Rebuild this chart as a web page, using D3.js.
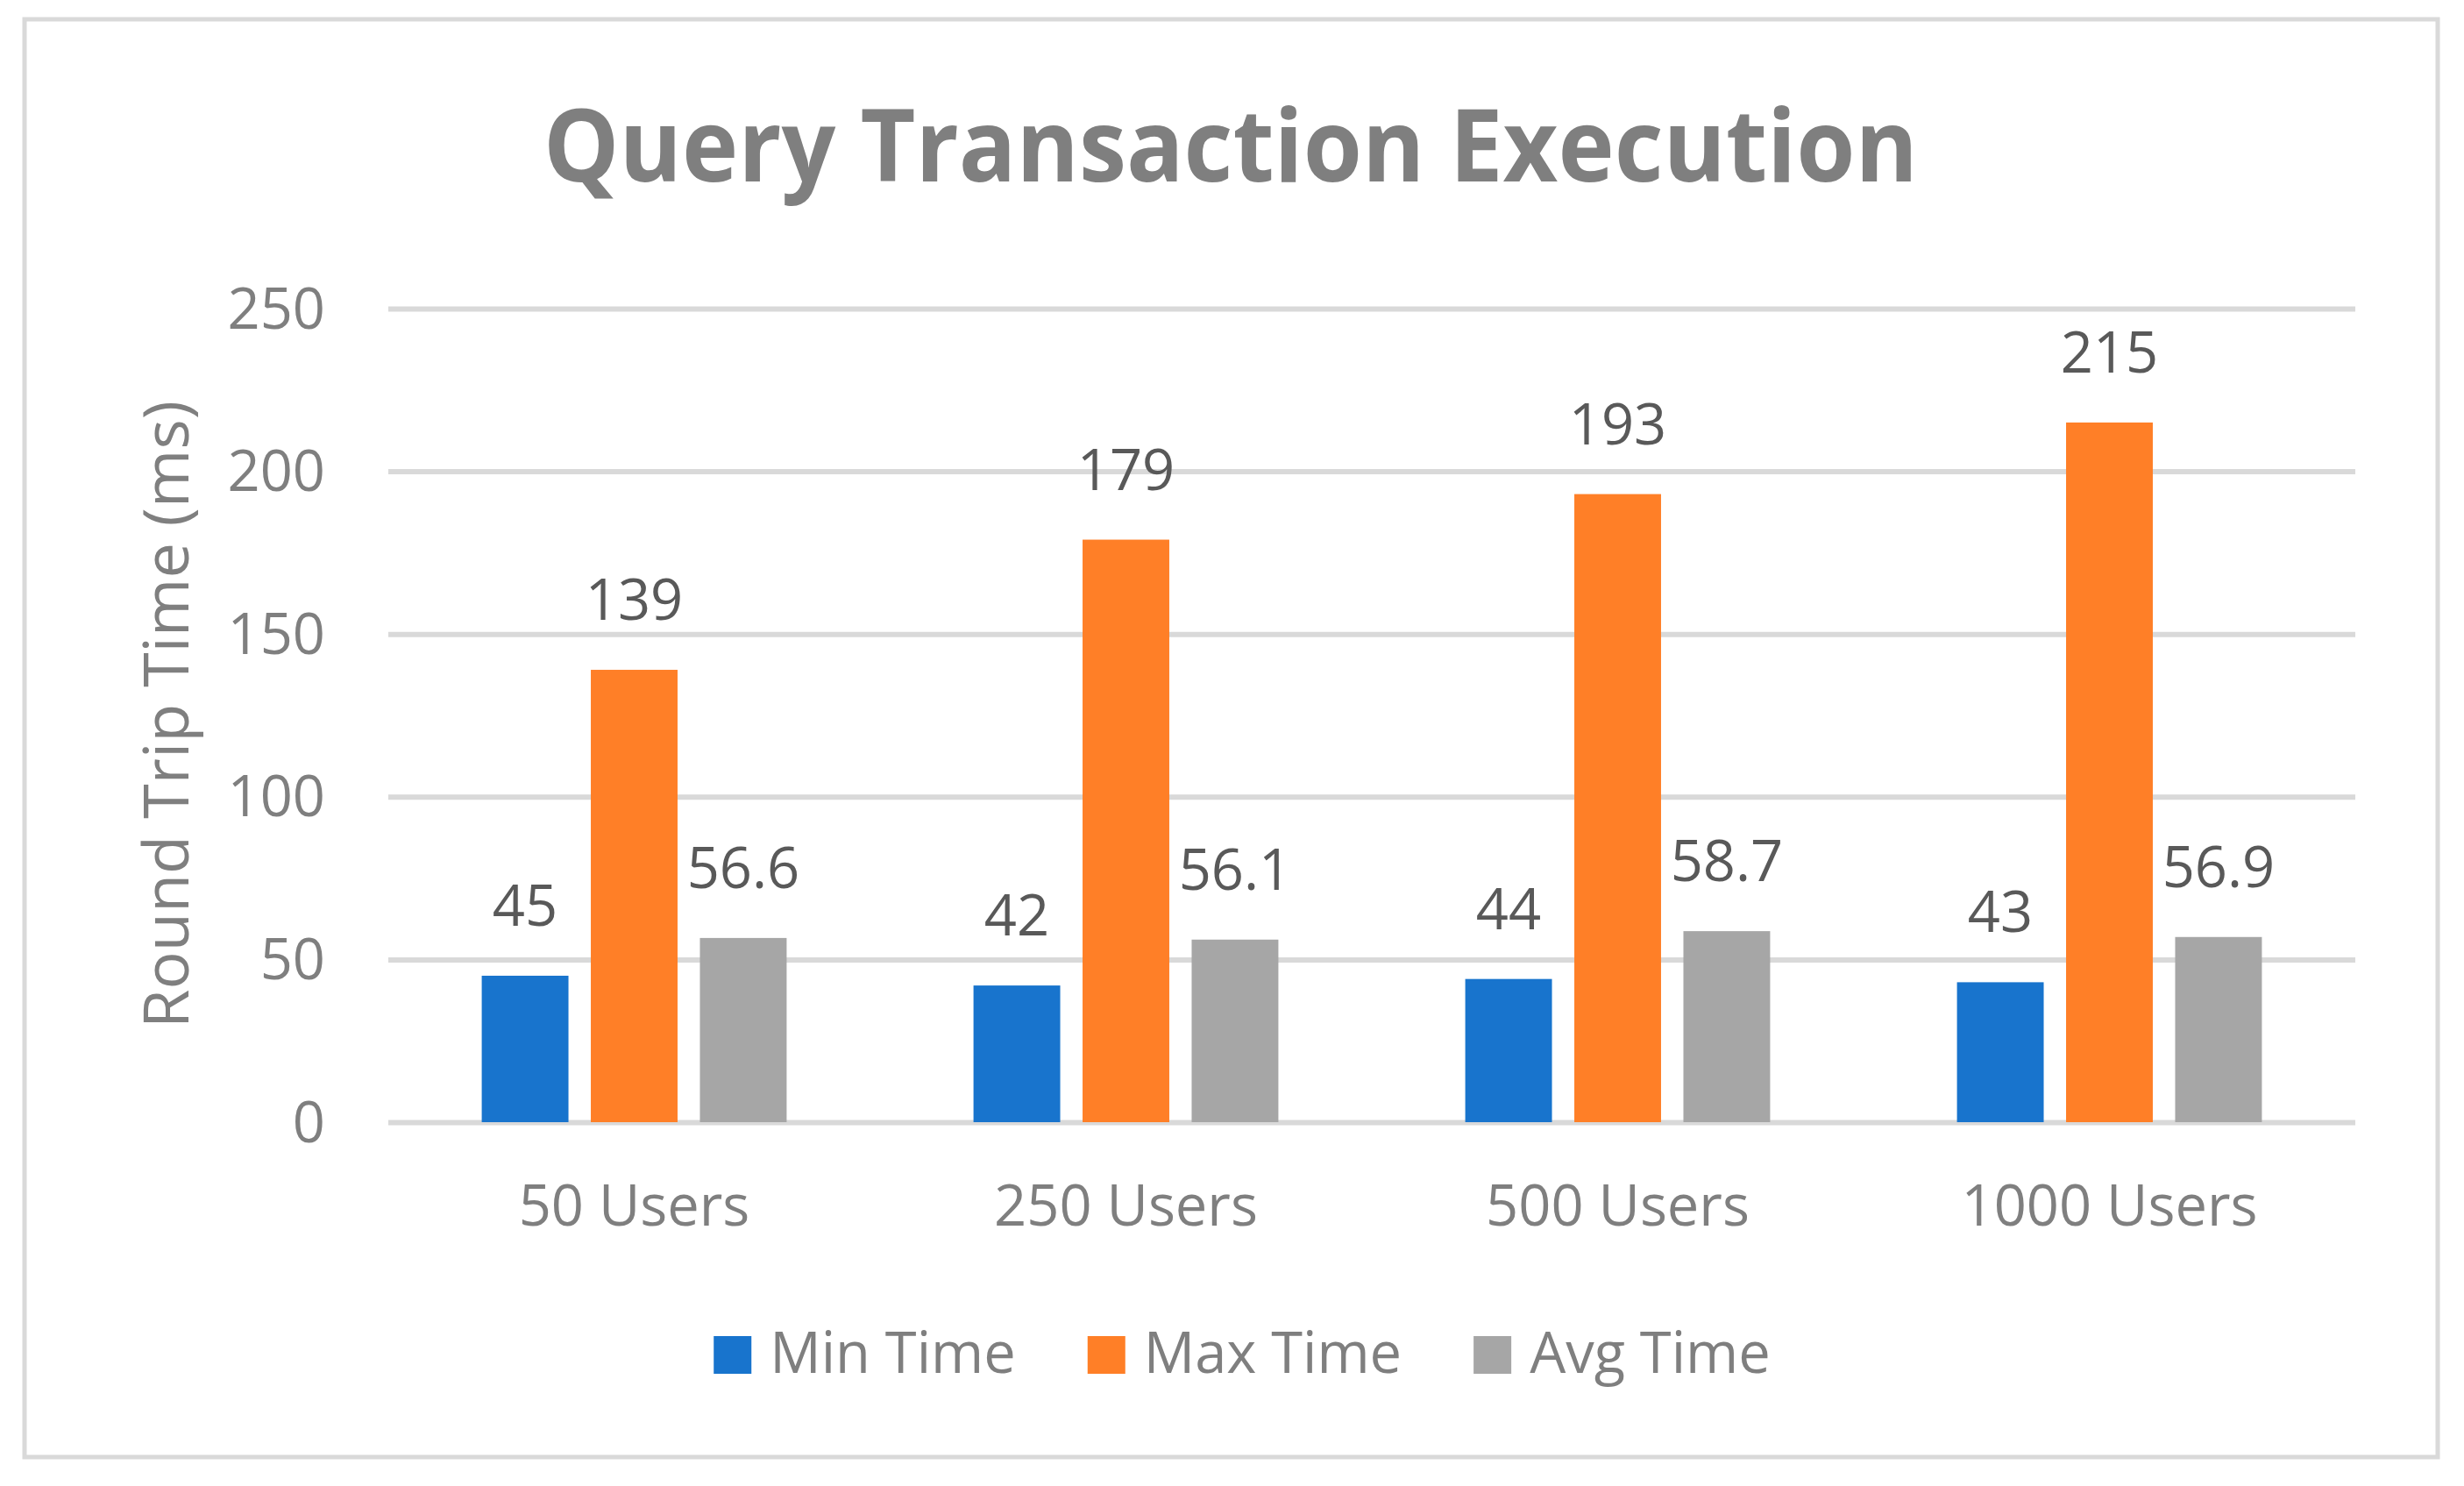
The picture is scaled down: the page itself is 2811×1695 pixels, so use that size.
<!DOCTYPE html>
<html>
<head>
<meta charset="utf-8">
<script src="https://cdn.jsdelivr.net/npm/d3@7"></script>
<style>
  html, body { margin: 0; padding: 0; background: #fff; }
  svg text { font-family: "Open Sans", "Noto Sans", sans-serif; }
</style>
</head>
<body>
<div id="container"></div>
<script>
// chart data
var categories = ["50 Users", "250 Users", "500 Users", "1000 Users"];
var seriesNames = ["Min Time", "Max Time", "Avg Time"];
var minTime = [45, 42, 44, 43];
var maxTime = [139, 179, 193, 215];
var avgTime = [56.6, 56.1, 58.7, 56.9];
var yTicks = [0, 50, 100, 150, 200, 250];
var colors = ["#1874cd", "#ff7f27", "#a6a6a6"];

var W = 2811, H = 1695;
var margin = {top: 352, bottom: H - 1280, left: 443, right: W - 2687};
var width = W - margin.left - margin.right,
    height = H - margin.top - margin.bottom;

var svg = d3.select("div#container").append("svg")
  .attr("width", W).attr("height", H);

// outer frame
svg.append("rect")
  .attr("x", 28).attr("y", 22)
  .attr("width", 2753).attr("height", 1640)
  .attr("fill", "#fff")
  .attr("stroke", "#d9d9d9")
  .attr("stroke-width", 5);

// title
svg.append("text")
  .attr("x", 1404).attr("y", 207)
  .attr("text-anchor", "middle")
  .attr("textLength", 1568)
  .attr("lengthAdjust", "spacingAndGlyphs")
  .style("font-weight", "bold")
  .style("font-size", "114px")
  .style("fill", "#7f7f7f")
  .text("Query Transaction Execution");

var g = svg.append("g").attr("transform", "translate(" + margin.left + "," + margin.top + ")");

var x0 = d3.scaleBand().domain(categories).range([0, width])
  .paddingInner(0.38).paddingOuter(0.19);
var x1 = d3.scaleBand().domain(seriesNames).range([0, x0.bandwidth()])
  .paddingInner(0.205);
var y = d3.scaleLinear().domain([0, 250]).range([height, 0]);

// gridlines via axis
var yAxis = d3.axisLeft(y).tickValues(yTicks).tickSize(-width).tickPadding(70);
var gy = g.append("g").call(yAxis);
gy.select(".domain").remove();
gy.selectAll(".tick line").attr("stroke", "#d9d9d9").attr("stroke-width", 6);
gy.selectAll(".tick text")
  .attr("x", -72)
  .attr("dy", "0.34em")
  .style("font-size", "65px")
  .style("fill", "#7f7f7f")
  .style("font-family", "'Open Sans', sans-serif");

// category axis labels
var xAxis = d3.axisBottom(x0).tickSize(0).tickPadding(118);
var gx = g.append("g").attr("transform", "translate(0," + height + ")").call(xAxis);
gx.select(".domain").remove();
gx.selectAll(".tick text")
  .attr("dy", 0)
  .style("font-size", "65px")
  .style("fill", "#7f7f7f")
  .style("font-family", "'Open Sans', sans-serif");

// bars
var rows = categories.map(function(c, i) {
  return {cat: c, vals: [minTime[i], maxTime[i], avgTime[i]]};
});

var groups = g.selectAll("g.group").data(rows).enter().append("g")
  .attr("class", "group")
  .attr("transform", function(d) { return "translate(" + x0(d.cat) + ",0)"; });

groups.selectAll("rect").data(function(d) {
    return d.vals.map(function(v, k) { return {name: seriesNames[k], v: v, k: k}; });
  }).enter().append("rect")
  .attr("x", function(d) { return x1(d.name); })
  .attr("y", function(d) { return y(d.v); })
  .attr("width", x1.bandwidth())
  .attr("height", function(d) { return height - y(d.v); })
  .attr("fill", function(d) { return colors[d.k]; });

// value labels
groups.selectAll("text.val").data(function(d) {
    return d.vals.map(function(v, k) { return {name: seriesNames[k], v: v, k: k}; });
  }).enter().append("text")
  .attr("class", "val")
  .attr("x", function(d) { return x1(d.name) + x1.bandwidth() / 2; })
  .attr("y", function(d) { return y(d.v) - 57; })
  .attr("text-anchor", "middle")
  .style("font-size", "65px")
  .style("fill", "#595959")
  .text(function(d) { return d.v; });

// y axis title
svg.append("text")
  .attr("transform", "translate(215,815) rotate(-90)")
  .attr("text-anchor", "middle")
  .style("font-size", "72px")
  .style("fill", "#7f7f7f")
  .text("Round Trip Time (ms)");

// legend
var legend = svg.append("g");
var items = legend.selectAll("g").data(seriesNames).enter().append("g");
items.append("rect")
  .attr("y", 1524).attr("width", 43).attr("height", 43)
  .attr("fill", function(d, i) { return colors[i]; });
items.append("text")
  .attr("x", 64).attr("y", 1566)
  .style("font-size", "65px")
  .style("fill", "#7f7f7f")
  .text(function(d) { return d; });

var pos = 0, offsets = [];
items.each(function() {
  offsets.push(pos);
  pos += 64 + d3.select(this).select("text").node().getComputedTextLength() + 82;
});
var total = pos - 82;
var start = 1417 - total / 2;
items.attr("transform", function(d, i) { return "translate(" + (start + offsets[i]) + ",0)"; });
</script>
</body>
</html>
